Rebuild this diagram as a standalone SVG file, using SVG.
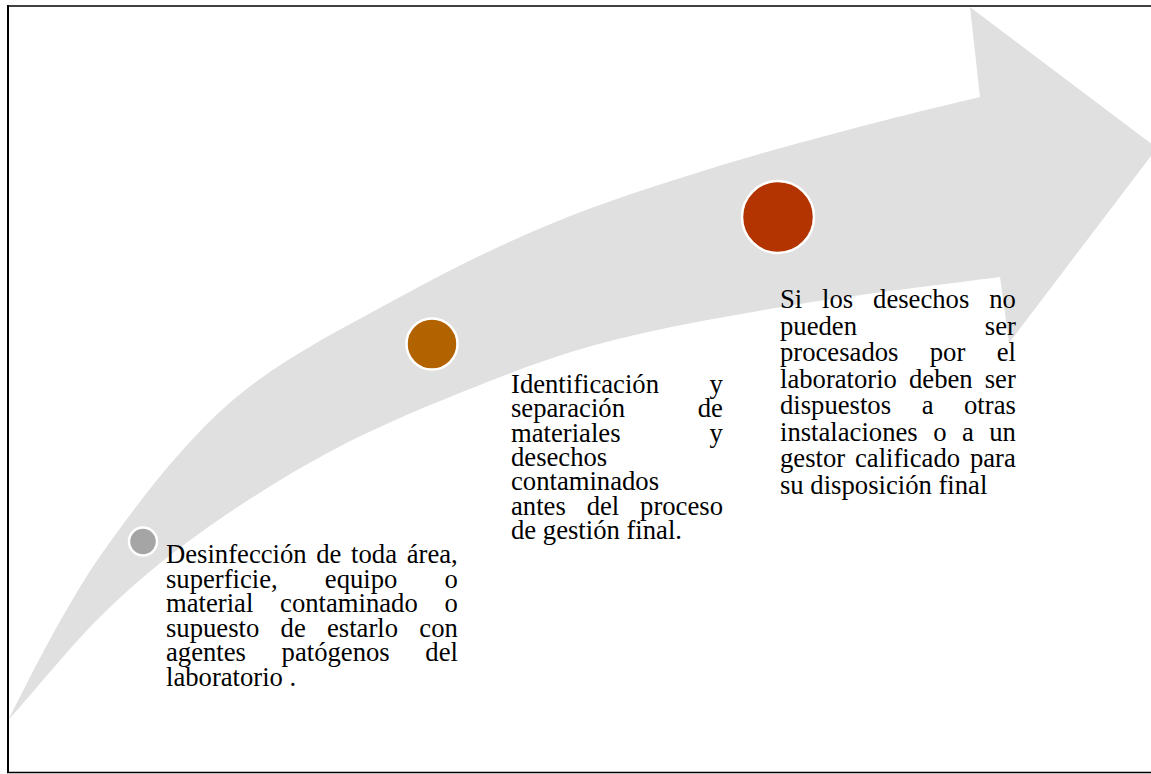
<svg xmlns="http://www.w3.org/2000/svg" width="1151" height="774" viewBox="0 0 1151 774">
  <style>
    .t { font-family: "Liberation Serif", "Times New Roman", serif; font-size: 26.67px; fill: #000; font-variant-ligatures: none; }
    .dot { stroke: #ffffff; stroke-width: 2.5; }
    .frame { stroke: #000; fill: none; }
  </style>
  <rect x="0" y="0" width="1151" height="774" fill="#ffffff"/>
  <g id="arrow">
    <path fill="#e0e0e0" d="M 9 719 C 23.8 689.5, 65.5 604.8, 103 552 C 140.5 499.2, 183.5 442.5, 233 400 C 282.5 357.5, 346.7 326.5, 400 297 C 453.3 267.5, 502 244.2, 553 223 C 604 201.8, 655 186, 706 170 C 757 154, 813.3 139.2, 859 127 C 904.7 114.8, 959.8 102, 980 97 L 970 7 L 1157 148 L 1009 343 L 1000 277 C 966.7 281.5, 864.3 293.5, 800 304 C 735.7 314.5, 667.3 326.5, 614 340 C 560.7 353.5, 526.8 366.7, 480 385 C 433.2 403.3, 379.7 425.3, 333 450 C 286.3 474.7, 238.8 505.2, 200 533 C 161.2 560.8, 131.7 585.8, 100 617 C 68.3 648.2, 25 702.8, 9 719 Z"/>
  </g>
  <g id="connectors"></g>
  <g id="step1">
    <circle class="dot" cx="143" cy="541.5" r="14" fill="#a5a5a5"/>
    <text class="t" x="166" y="563" word-spacing="3.0">Desinfección de toda área,</text>
    <text class="t" x="166" y="587.5" word-spacing="40.4">superficie, equipo o</text>
    <text class="t" x="166" y="612" word-spacing="20.1">material contaminado o</text>
    <text class="t" x="166" y="636.5" word-spacing="14.6">supuesto de estarlo con</text>
    <text class="t" x="166" y="661" word-spacing="29.0">agentes patógenos del</text>
    <text class="t" x="166" y="685.5">laboratorio .</text>
  </g>
  <g id="step2">
    <circle class="dot" cx="432" cy="344" r="25.5" fill="#b36200"/>
    <text class="t" x="511" y="393" word-spacing="43.8">Identificación y</text>
    <text class="t" x="511" y="417.3" word-spacing="66.1">separación de</text>
    <text class="t" x="511" y="441.6" word-spacing="82.4">materiales y</text>
    <text class="t" x="511" y="465.9">desechos</text>
    <text class="t" x="511" y="490.2">contaminados</text>
    <text class="t" x="511" y="514.5" word-spacing="14.2">antes del proceso</text>
    <text class="t" x="511" y="538.8">de gestión final.</text>
  </g>
  <g id="step3">
    <circle class="dot" cx="778" cy="217" r="36" fill="#b33400"/>
    <text class="t" x="780" y="308" word-spacing="13.2">Si los desechos no</text>
    <text class="t" x="780" y="334.5" word-spacing="121.2">pueden ser</text>
    <text class="t" x="780" y="361" word-spacing="24.7">procesados por el</text>
    <text class="t" x="780" y="387.5" word-spacing="5.4">laboratorio deben ser</text>
    <text class="t" x="780" y="414" word-spacing="23.9">dispuestos a otras</text>
    <text class="t" x="780" y="440.5" word-spacing="8.8">instalaciones o a un</text>
    <text class="t" x="780" y="467" word-spacing="3.2">gestor calificado para</text>
    <text class="t" x="780" y="493.5">su disposición final</text>
  </g>
  <g id="frame">
    <line class="frame" x1="7" y1="6" x2="1151" y2="6" stroke-width="1.5"/>
    <line class="frame" x1="8" y1="5.25" x2="8" y2="773" stroke-width="2"/>
    <line class="frame" x1="7" y1="772.5" x2="1151" y2="772.5" stroke-width="1.5"/>
  </g>
</svg>
